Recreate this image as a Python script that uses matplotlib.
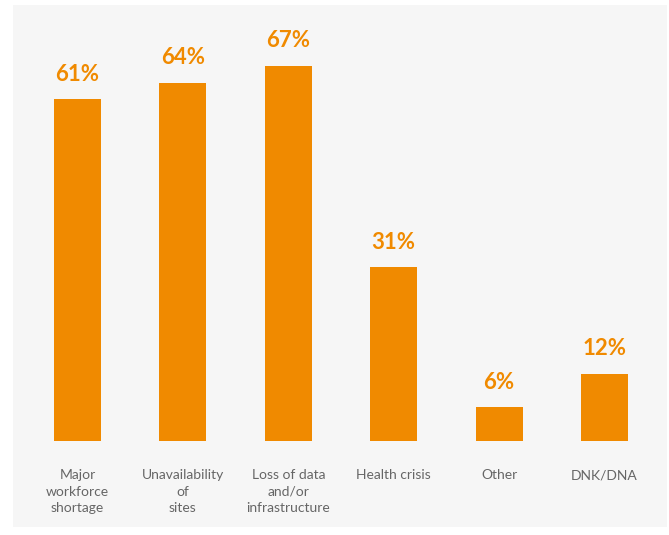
import matplotlib.pyplot as plt
from matplotlib.patches import Rectangle

# Survey results: share of respondents per scenario
categories = ['Major\nworkforce\nshortage', 'Unavailability\nof\nsites',
              'Loss of data\nand/or\ninfrastructure', 'Health crisis',
              'Other', 'DNK/DNA']
values = [61, 64, 67, 31, 6, 12]
value_labels = ['61%', '64%', '67%', '31%', '6%', '12%']

orange = '#f08a00'
panel = '#f6f6f6'
grey = '#666666'

plt.rcParams['font.family'] = ['Lato', 'DejaVu Sans']

fig = plt.figure(figsize=(6.69, 5.35), dpi=100)
fig.patch.set_facecolor('white')

# light grey panel behind the chart
fig.add_artist(Rectangle((13 / 669, 1 - 527 / 535), (667 - 13) / 669, (527 - 5) / 535,
                         transform=fig.transFigure, facecolor=panel,
                         edgecolor='none', zorder=-5))

ax = fig.add_axes([0.0371, 0.1757, 0.9453, 0.7327])
ax.set_facecolor('none')

x = range(len(categories))
bars = ax.bar(x, values, width=0.446, color=orange)

for bar, label in zip(bars, value_labels):
    ax.annotate(label, (bar.get_x() + bar.get_width() / 2, bar.get_height()),
                xytext=(0, 13.5), textcoords='offset points',
                ha='center', va='baseline', fontsize=16, fontweight='bold',
                color=orange)

ax.set_xlim(-0.5, 5.5)
ax.set_ylim(0, 70)
ax.set_xticks(list(x))
ax.set_xticklabels(categories, fontsize=10, color=grey, linespacing=1.42)
ax.tick_params(axis='x', length=0, pad=20.5)
ax.set_yticks([])
for side in ax.spines.values():
    side.set_visible(False)

fig.savefig('out.png', dpi=100, facecolor=fig.get_facecolor())
